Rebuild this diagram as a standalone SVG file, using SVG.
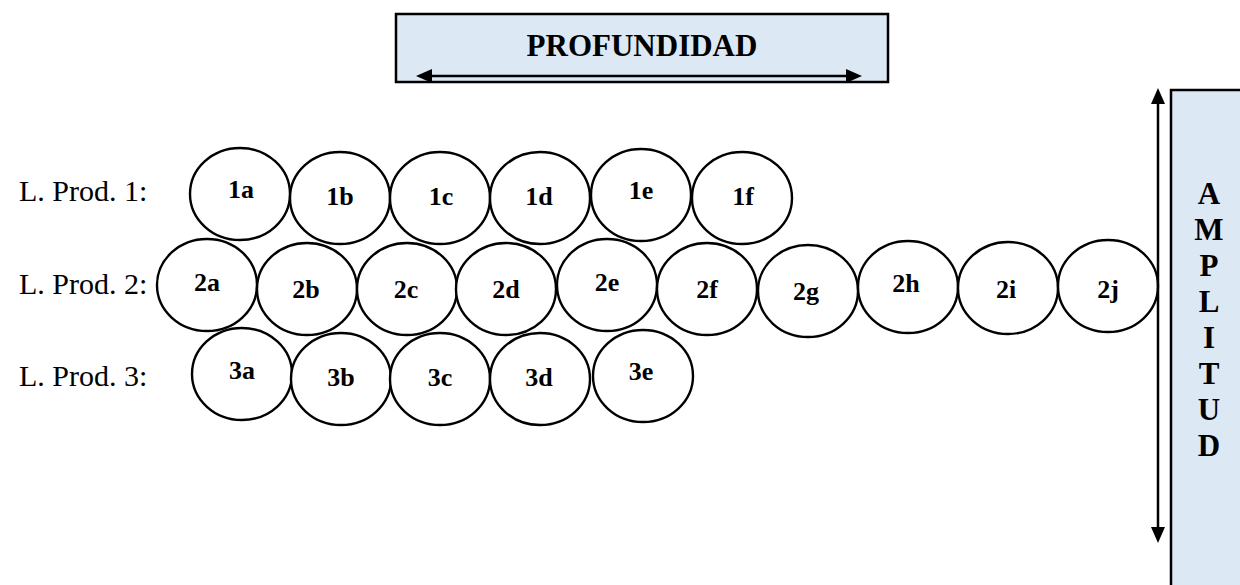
<svg xmlns="http://www.w3.org/2000/svg" width="1240" height="585" viewBox="0 0 1240 585">
  <style>
    .box { fill: #dde8f5; stroke: #000; stroke-width: 2.5; }
    .node ellipse { fill: #fff; stroke: #000; stroke-width: 2.4; }
    .node text { font-family: "Liberation Serif", "Times New Roman", serif; font-weight: bold; font-size: 26px; text-anchor: middle; fill: #000; }
    .row { font-family: "Liberation Serif", "Times New Roman", serif; font-size: 30px; fill: #000; }
    .title { font-family: "Liberation Serif", "Times New Roman", serif; font-weight: bold; font-size: 31px; text-anchor: middle; fill: #000; }
    .arrow { stroke: #000; stroke-width: 2.5; fill: none; marker-start: url(#head); marker-end: url(#head); }
  </style>
  <defs>
    <marker id="head" markerUnits="userSpaceOnUse" markerWidth="16" markerHeight="16" viewBox="0 0 16 16" refX="2" refY="8" orient="auto-start-reverse">
      <path d="M0,1 L16,8 L0,15 z" fill="#000"/>
    </marker>
  </defs>

  <!-- Depth banner -->
  <g id="profundidad">
    <rect class="box" x="396" y="14" width="492" height="68"/>
    <text class="title" x="642" y="56">PROFUNDIDAD</text>
  </g>

  <!-- Breadth banner -->
  <g id="amplitud">
    <rect class="box" x="1171" y="90" width="80" height="510"/>
    <g class="title">
      <text x="1209" y="204">A</text>
      <text x="1209" y="240">M</text>
      <text x="1209" y="276">P</text>
      <text x="1209" y="312">L</text>
      <text x="1209" y="348">I</text>
      <text x="1209" y="384">T</text>
      <text x="1209" y="420">U</text>
      <text x="1209" y="456">D</text>
    </g>
  </g>

  <!-- Row labels -->
  <g id="row-labels" class="row">
    <text x="19" y="201">L. Prod. 1:</text>
    <text x="19" y="294">L. Prod. 2:</text>
    <text x="19" y="386">L. Prod. 3:</text>
  </g>

  <!-- Line 1 -->
  <g id="n1a" class="node"><ellipse cx="240" cy="194" rx="50" ry="46"/><text x="241" y="198">1a</text></g>
  <g id="n1b" class="node"><ellipse cx="340" cy="198" rx="50" ry="46"/><text x="340" y="205">1b</text></g>
  <g id="n1c" class="node"><ellipse cx="440" cy="198" rx="50" ry="46"/><text x="441" y="205">1c</text></g>
  <g id="n1d" class="node"><ellipse cx="540" cy="198" rx="50" ry="46"/><text x="539" y="205">1d</text></g>
  <g id="n1e" class="node"><ellipse cx="641" cy="195" rx="50" ry="46"/><text x="641" y="199">1e</text></g>
  <g id="n1f" class="node"><ellipse cx="742" cy="198" rx="50" ry="46"/><text x="743" y="205">1f</text></g>

  <!-- Line 2 -->
  <g id="n2a" class="node"><ellipse cx="207" cy="285" rx="50" ry="46"/><text x="207" y="291">2a</text></g>
  <g id="n2b" class="node"><ellipse cx="307" cy="289" rx="50" ry="46"/><text x="306" y="298">2b</text></g>
  <g id="n2c" class="node"><ellipse cx="407" cy="289" rx="50" ry="46"/><text x="406" y="298">2c</text></g>
  <g id="n2d" class="node"><ellipse cx="506" cy="289" rx="50" ry="46"/><text x="506" y="298">2d</text></g>
  <g id="n2e" class="node"><ellipse cx="607" cy="285" rx="50" ry="46"/><text x="607" y="291">2e</text></g>
  <g id="n2f" class="node"><ellipse cx="707" cy="289" rx="50" ry="46"/><text x="707" y="298">2f</text></g>
  <g id="n2g" class="node"><ellipse cx="808" cy="291" rx="50" ry="46"/><text x="806" y="300">2g</text></g>
  <g id="n2h" class="node"><ellipse cx="908" cy="287" rx="50" ry="46"/><text x="906" y="292">2h</text></g>
  <g id="n2i" class="node"><ellipse cx="1008" cy="288" rx="50" ry="46"/><text x="1006" y="298">2i</text></g>
  <g id="n2j" class="node"><ellipse cx="1108" cy="286" rx="50" ry="46"/><text x="1108" y="298">2j</text></g>

  <!-- Line 3 -->
  <g id="n3a" class="node"><ellipse cx="242" cy="374" rx="50" ry="46"/><text x="242" y="379">3a</text></g>
  <g id="n3b" class="node"><ellipse cx="341" cy="379" rx="50" ry="46"/><text x="341" y="386">3b</text></g>
  <g id="n3c" class="node"><ellipse cx="440" cy="379" rx="50" ry="46"/><text x="440" y="386">3c</text></g>
  <g id="n3d" class="node"><ellipse cx="540" cy="379" rx="50" ry="46"/><text x="539" y="386">3d</text></g>
  <g id="n3e" class="node"><ellipse cx="643" cy="376" rx="50" ry="46"/><text x="641" y="380">3e</text></g>

  <!-- Dimension arrows -->
  <g id="connectors">
    <line class="arrow" x1="430" y1="76" x2="848" y2="76"/>
    <line class="arrow" x1="1158" y1="102" x2="1158" y2="529"/>
  </g>
</svg>
